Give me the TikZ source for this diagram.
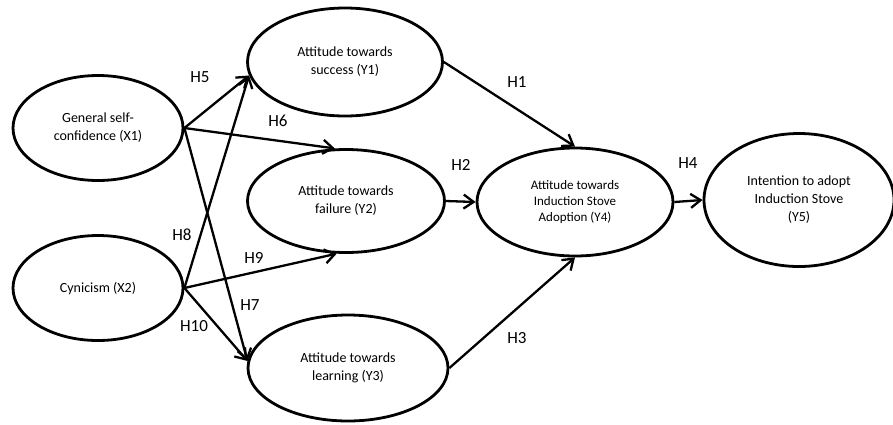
\documentclass[tikz,border=0pt]{standalone}
\usepackage{fontspec}
\setmainfont{Carlito}
\usetikzlibrary{shapes.geometric,arrows.meta}
\begin{document}
\begin{tikzpicture}[x=1pt,y=-1pt,
  latent/.style={draw,ellipse,line width=2.8pt,inner sep=0pt,align=center,
    font=\fontsize{14}{18}\selectfont},
  path/.style={line width=2.3pt,-{Straight Barb[length=10pt,width=14pt,line width=2.3pt]}},
  hlab/.style={font=\fontsize{17}{19}\selectfont,inner sep=0pt}]
\useasboundingbox (0,0) rectangle (893,424);
\node[latent,minimum width=170pt,minimum height=105pt] (X1) at (98,128) {General self-\\confidence (X1)};
\node[latent,minimum width=170pt,minimum height=105pt] (X2) at (98,288) {Cynicism (X2)};
\node[latent,minimum width=195pt,minimum height=108pt] (Y1) at (345,62) {Attitude towards\\success (Y1)};
\node[latent,minimum width=197pt,minimum height=103pt] (Y2) at (346,201) {Attitude towards\\failure (Y2)};
\node[latent,minimum width=200pt,minimum height=106pt] (Y3) at (348,368) {Attitude towards\\learning (Y3)};
\node[latent,minimum width=196pt,minimum height=108pt,font=\fontsize{13}{16}\selectfont] (Y4) at (575,202) {Attitude towards\\Induction Stove\\Adoption (Y4)};
\node[latent,minimum width=190pt,minimum height=133pt] (Y5) at (799,200) {Intention to adopt\\Induction Stove\\(Y5)};
\draw[path] (X1.east) -- (Y1.188);
\draw[path] (X1.east) -- (Y2.102);
\draw[path] (X1.east) -- (Y3.176);
\draw[path] (X2.east) -- (Y1.188);
\draw[path] (X2.east) -- (Y2.260);
\draw[path] (X2.east) -- (Y3.176);
\draw[path] (Y1.east) -- (Y4.north);
\draw[path] (Y2.east) -- (Y4.west);
\draw[path] (Y3.east) -- (Y4.south);
\draw[path] (Y4.east) -- (Y5.west);
\node[hlab] (h5) at (200,77) {H5};
\node[hlab] (h6) at (278,121) {H6};
\node[hlab] (h8) at (182,235) {H8};
\node[hlab] (h9) at (254,258) {H9};
\node[hlab] (h7) at (250,305) {H7};
\node[hlab] (h10) at (194,326) {H10};
\node[hlab] (h1) at (517,82) {H1};
\node[hlab] (h2) at (461,165) {H2};
\node[hlab] (h3) at (517,338) {H3};
\node[hlab] (h4) at (688,163) {H4};
\end{tikzpicture}
\end{document}
